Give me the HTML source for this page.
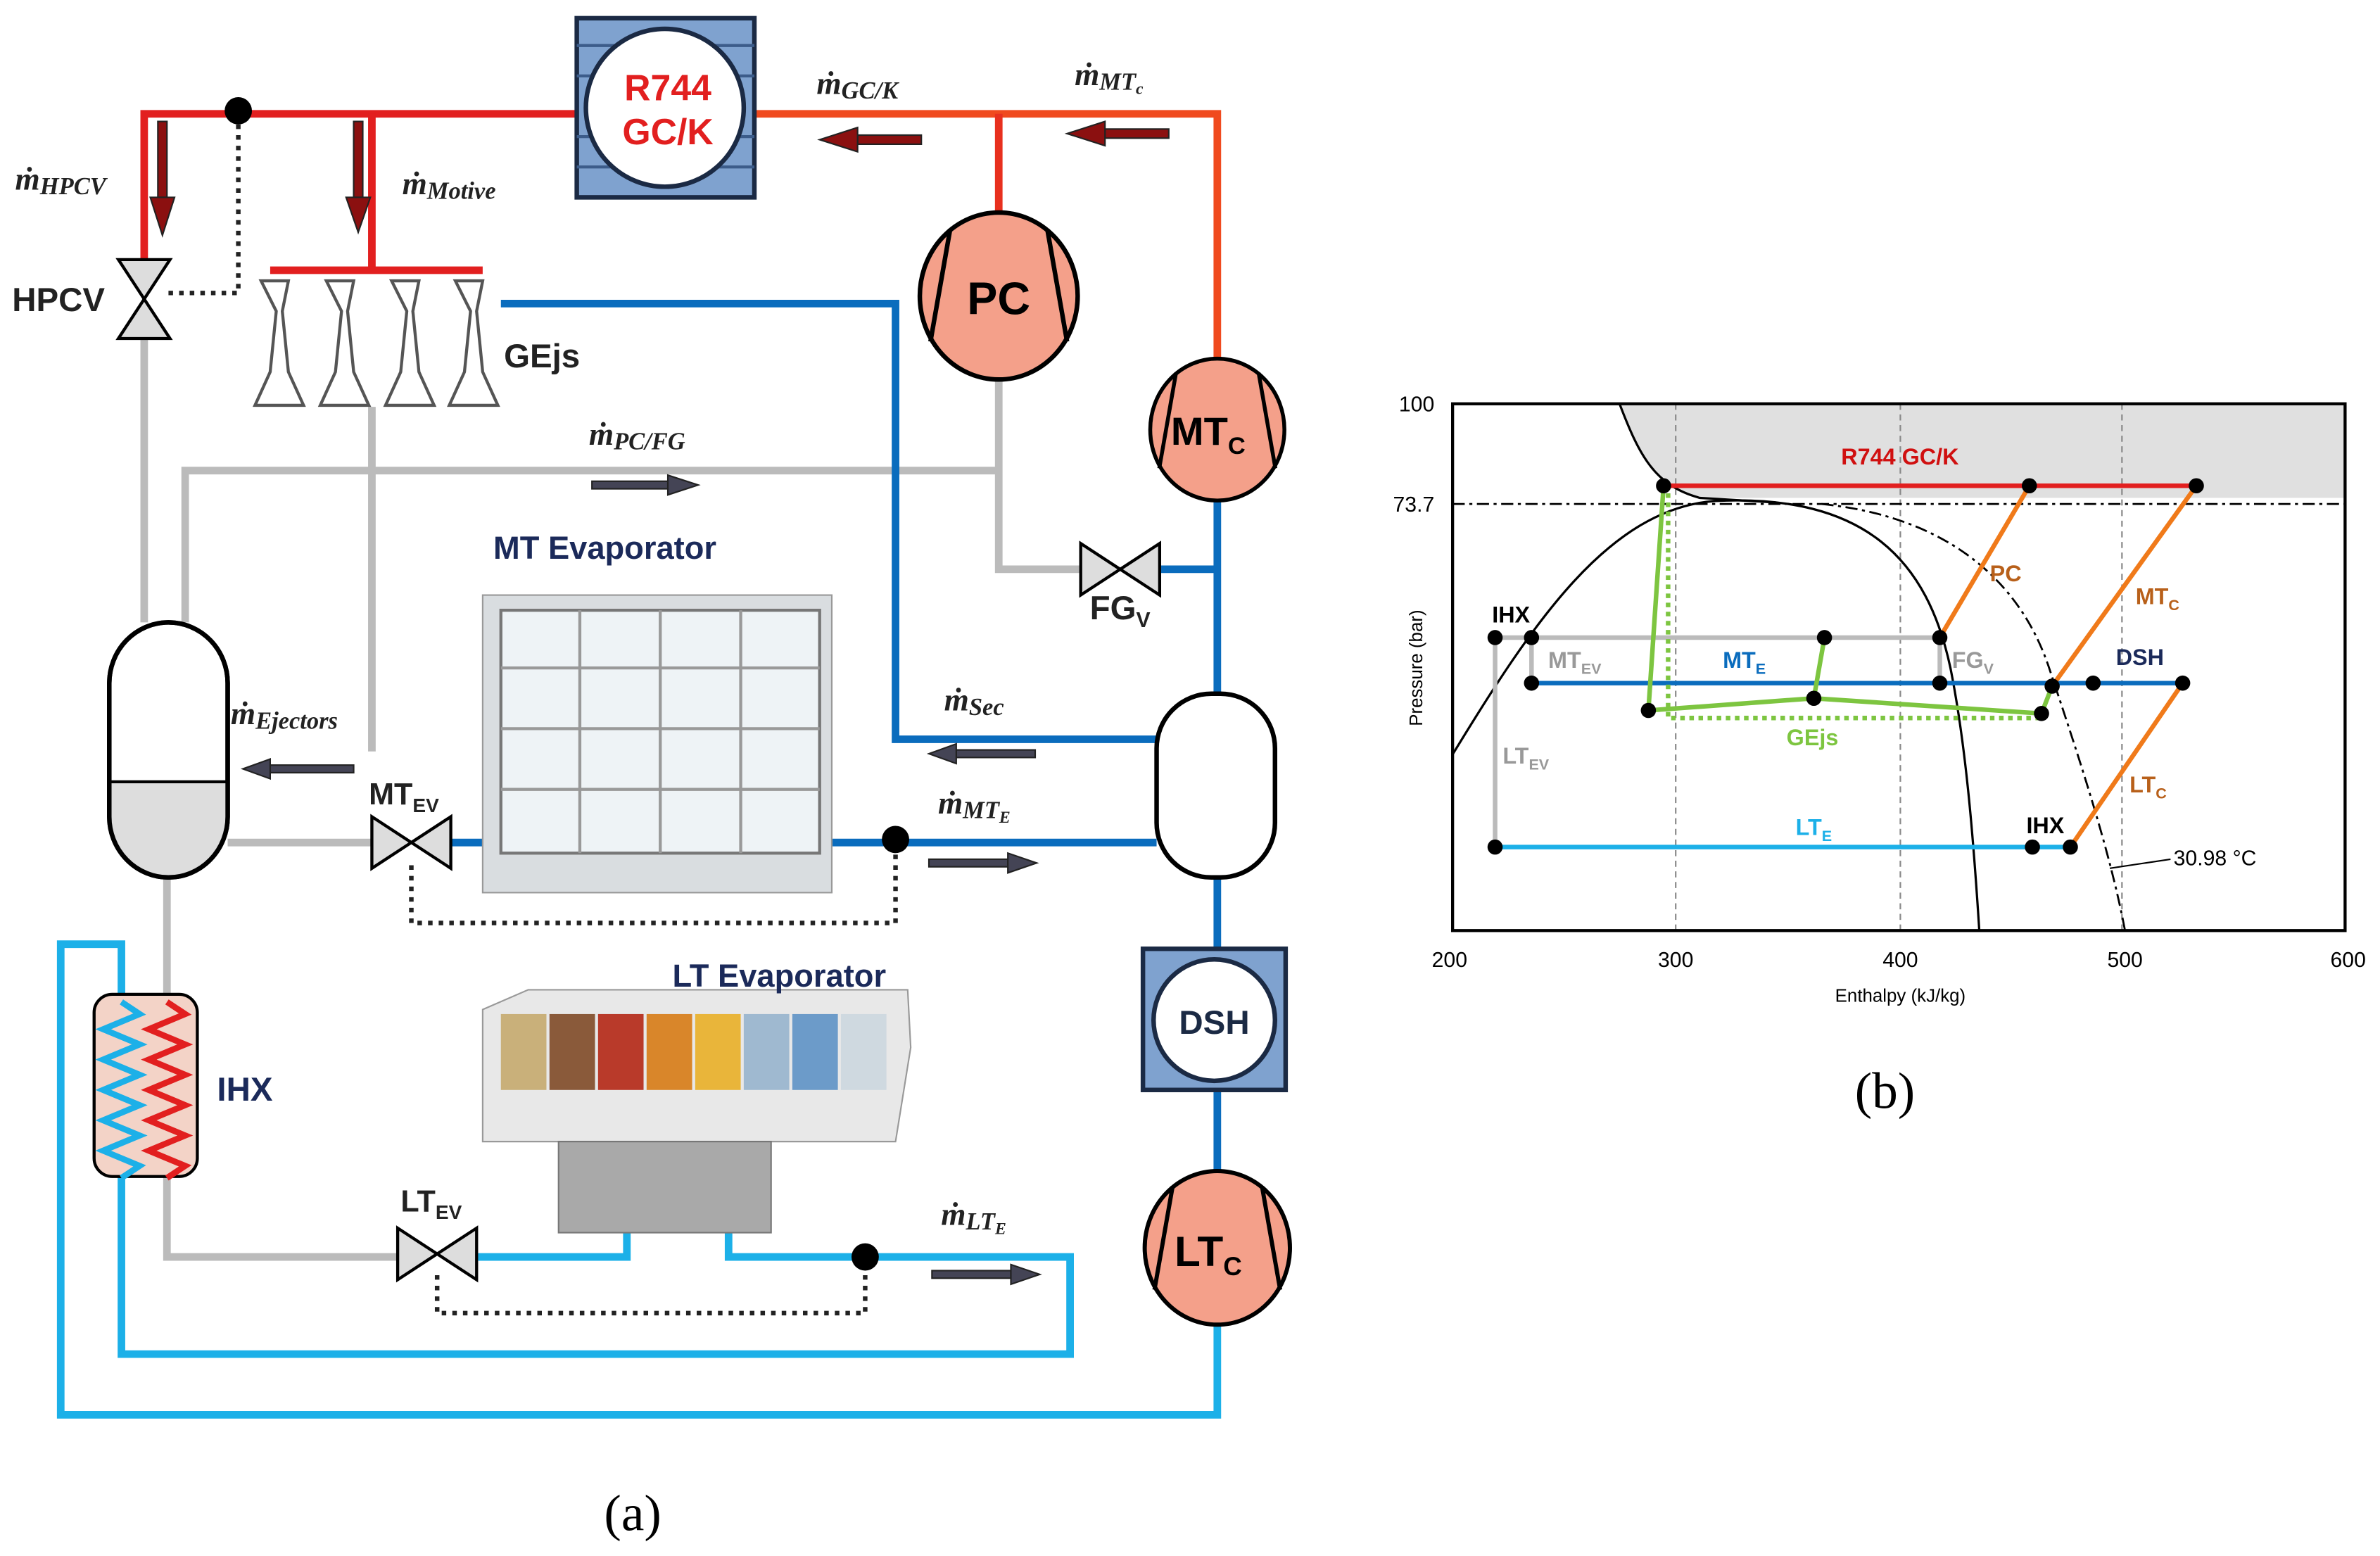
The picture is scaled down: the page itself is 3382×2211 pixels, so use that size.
<!DOCTYPE html>
<html><head><meta charset="utf-8"><style>html,body{margin:0;padding:0;background:#fff}svg{display:block}</style></head><body>
<svg width="3382" height="2211" viewBox="0 0 1568 1025" preserveAspectRatio="none" xmlns="http://www.w3.org/2000/svg" font-family="Liberation Sans, sans-serif">
<defs>
<g id="comp"><ellipse cx="0" cy="0" rx="52" ry="55" fill="#f4a08a" stroke="#000" stroke-width="3"/><line x1="-32" y1="-44" x2="-45" y2="30" stroke="#000" stroke-width="3"/><line x1="32" y1="-44" x2="45" y2="30" stroke="#000" stroke-width="3"/></g>
<g id="valve"><polygon points="-26,-17 -26,17 0,0" fill="#ddd" stroke="#000" stroke-width="2"/><polygon points="26,-17 26,17 0,0" fill="#ddd" stroke="#000" stroke-width="2"/></g>
</defs>
<g fill="none" stroke-width="5">
<!-- red/orange top -->
<path d="M95,190 V75 H380" stroke="#e21f1f"/>
<path d="M497,75 H802 V240" stroke="#f04a1e"/>
<path d="M658,75 V140" stroke="#e8301e"/>
<path d="M245,75 V178" stroke="#e21f1f"/>
<path d="M178,178 H318" stroke="#e21f1f"/>
<!-- gray -->
<path d="M95,220 V410" stroke="#bbb"/>
<path d="M122,410 V310 H658" stroke="#bbb"/>
<path d="M658,250 V375 H712" stroke="#bbb"/>
<path d="M245,268 V495" stroke="#bbb"/>
<path d="M150,555 H245" stroke="#bbb"/>
<path d="M110,578 V828 H262" stroke="#bbb"/>
<!-- blue MT -->
<path d="M330,200 H590 V487 H762" stroke="#0a6cbd"/>
<path d="M802,328 V457" stroke="#0a6cbd"/>
<path d="M765,375 H802" stroke="#0a6cbd"/>
<path d="M297,555 H762" stroke="#0a6cbd"/>
<path d="M802,578 V625 M802,718 V772" stroke="#0a6cbd"/>
<!-- light blue LT -->
<path d="M315,828 H413 V800 M480,810 V828 H705 V892 H80 V770" stroke="#1cb0e8"/>
<path d="M802,872 V932 H40 V622 H80 V660" stroke="#1cb0e8"/>
</g>
<!-- dotted -->
<g fill="none" stroke="#222" stroke-width="3" stroke-dasharray="3,4">
<path d="M157,75 V193 H110"/>
<path d="M271,570 V608 H590 V553"/>
<path d="M288,840 V865 H570 V828"/>
</g>
<circle cx="157" cy="73" r="9" fill="#000"/>
<circle cx="590" cy="553" r="9" fill="#000"/>
<circle cx="570" cy="828" r="9" fill="#000"/>
<!-- GC box -->
<rect x="380" y="12" width="117" height="118" fill="#7fa2cf" stroke="#1b2a44" stroke-width="3"/>
<g stroke="#3c5c8a" stroke-width="2"><line x1="380" y1="30" x2="497" y2="30"/><line x1="380" y1="50" x2="497" y2="50"/><line x1="380" y1="90" x2="497" y2="90"/><line x1="380" y1="110" x2="497" y2="110"/></g>
<circle cx="438" cy="71" r="52" fill="#fff" stroke="#1b2a44" stroke-width="3"/>
<text x="440" y="66" text-anchor="middle" font-weight="bold" font-size="24" fill="#e21f1f">R744</text>
<text x="440" y="95" text-anchor="middle" font-weight="bold" font-size="24" fill="#e21f1f">GC/K</text>
<!-- DSH box -->
<rect x="753" y="625" width="94" height="93" fill="#7fa2cf" stroke="#1b2a44" stroke-width="3"/>
<circle cx="800" cy="672" r="40" fill="#fff" stroke="#1b2a44" stroke-width="3"/>
<text x="800" y="681" text-anchor="middle" font-weight="bold" font-size="22" fill="#1b2a44">DSH</text>
<!-- compressors -->
<use href="#comp" x="658" y="195"/><text x="658" y="207" text-anchor="middle" font-weight="bold" font-size="30">PC</text>
<g transform="translate(802,283) scale(0.85)"><use href="#comp"/></g><text x="796" y="293" text-anchor="middle" font-weight="bold" font-size="26">MT<tspan font-size="16" dy="6">C</tspan></text>
<g transform="translate(802,822) scale(0.92)"><use href="#comp"/></g><text x="796" y="834" text-anchor="middle" font-weight="bold" font-size="28">LT<tspan font-size="17" dy="6">C</tspan></text>
<!-- valves -->
<g transform="translate(95,197) rotate(90)"><use href="#valve"/></g>
<use href="#valve" x="271" y="555"/>
<use href="#valve" x="288" y="826"/>
<use href="#valve" x="738" y="375"/>
<!-- ejectors -->
<g fill="#fff" stroke="#555" stroke-width="2">
<path d="M172,185 h18 l-4,20 l4,40 l10,22 h-32 l10,-22 l4,-40 z"/>
<path d="M215,185 h18 l-4,20 l4,40 l10,22 h-32 l10,-22 l4,-40 z"/>
<path d="M258,185 h18 l-4,20 l4,40 l10,22 h-32 l10,-22 l4,-40 z"/>
<path d="M300,185 h18 l-4,20 l4,40 l10,22 h-32 l10,-22 l4,-40 z"/>
</g>
<!-- separator -->
<path d="M72,450 a39,40 0 0 1 78,0 V538 a39,40 0 0 1 -78,0 Z" fill="#fff" stroke="#000" stroke-width="3"/>
<path d="M73,515 H149 V538 a38,39 0 0 1 -76,0 Z" fill="#ddd"/>
<path d="M72,450 a39,40 0 0 1 78,0 V538 a39,40 0 0 1 -78,0 Z" fill="none" stroke="#000" stroke-width="3"/>
<line x1="72" y1="515" x2="150" y2="515" stroke="#000" stroke-width="2"/>
<!-- receiver -->
<rect x="762" y="457" width="78" height="121" rx="36" fill="#fff" stroke="#000" stroke-width="3"/>
<!-- IHX -->
<rect x="62" y="655" width="68" height="120" rx="12" fill="#f3d3c7" stroke="#000" stroke-width="2"/>
<path d="M80,660 l12,8 -24,10 24,10 -24,10 24,10 -24,10 24,10 -24,10 24,10 -24,10 24,10 -12,8" fill="none" stroke="#1cb0e8" stroke-width="4"/>
<path d="M110,660 l12,8 -24,10 24,10 -24,10 24,10 -24,10 24,10 -24,10 24,10 -24,10 24,10 -12,8" fill="none" stroke="#e21f1f" stroke-width="4"/>
<!-- MT evaporator -->
<rect x="318" y="392" width="230" height="196" fill="#d9dde0" stroke="#999"/>
<rect x="330" y="402" width="210" height="160" fill="#eef3f6" stroke="#777" stroke-width="2"/>
<g stroke="#999" stroke-width="2"><line x1="382" y1="402" x2="382" y2="562"/><line x1="435" y1="402" x2="435" y2="562"/><line x1="488" y1="402" x2="488" y2="562"/><line x1="330" y1="440" x2="540" y2="440"/><line x1="330" y1="480" x2="540" y2="480"/><line x1="330" y1="520" x2="540" y2="520"/></g>
<!-- LT evaporator -->
<path d="M318,665 L348,652 H598 L600,690 L590,752 H318 Z" fill="#e8e8e8" stroke="#999"/>
<g><rect x="330" y="668" width="30" height="50" fill="#c9b07a"/><rect x="362" y="668" width="30" height="50" fill="#8a5a3a"/><rect x="394" y="668" width="30" height="50" fill="#b93a2a"/><rect x="426" y="668" width="30" height="50" fill="#d9862a"/><rect x="458" y="668" width="30" height="50" fill="#e9b53a"/><rect x="490" y="668" width="30" height="50" fill="#9fb9d0"/><rect x="522" y="668" width="30" height="50" fill="#6c9bc9"/><rect x="554" y="668" width="30" height="50" fill="#cfd9e0"/></g>
<rect x="368" y="752" width="140" height="60" fill="#a9a9a9" stroke="#777"/>
<!-- arrows -->
<g fill="#8b1010" stroke="#222" stroke-width="1">
<rect x="565" y="89" width="42" height="6"/><polygon points="565,84 540,92 565,100"/>
<rect x="728" y="85" width="42" height="6"/><polygon points="728,80 703,88 728,96"/>
<rect x="104" y="80" width="6" height="50"/><polygon points="99,130 107,155 115,130"/>
<rect x="233" y="80" width="6" height="50"/><polygon points="228,130 236,153 244,130"/>
</g>
<g fill="#445" stroke="#222" stroke-width="1">
<rect x="390" y="317" width="50" height="5"/><polygon points="440,313 460,319.5 440,326"/>
<rect x="630" y="494" width="52" height="5"/><polygon points="630,490 612,496.5 630,503"/>
<rect x="178" y="504" width="55" height="5"/><polygon points="178,500 160,506.5 178,513"/>
<rect x="612" y="566" width="52" height="5"/><polygon points="664,562 683,568.5 664,575"/>
<rect x="614" y="837" width="52" height="5"/><polygon points="666,833 685,839.5 666,846"/>
</g>
<!-- labels -->
<g font-family="Liberation Serif, serif" font-style="italic" font-weight="bold" fill="#222">
<text x="538" y="62" font-size="21">ṁ<tspan font-size="16" dy="3">GC/K</tspan></text>
<text x="708" y="56" font-size="21">ṁ<tspan font-size="16" dy="3">MT</tspan><tspan font-size="11" dy="3">c</tspan></text>
<text x="10" y="125" font-size="21">ṁ<tspan font-size="16" dy="3">HPCV</tspan></text>
<text x="265" y="128" font-size="21">ṁ<tspan font-size="16" dy="3">Motive</tspan></text>
<text x="388" y="293" font-size="21">ṁ<tspan font-size="16" dy="3">PC/FG</tspan></text>
<text x="152" y="477" font-size="21">ṁ<tspan font-size="16" dy="3">Ejectors</tspan></text>
<text x="622" y="468" font-size="21">ṁ<tspan font-size="16" dy="3">Sec</tspan></text>
<text x="618" y="536" font-size="21">ṁ<tspan font-size="16" dy="3">MT</tspan><tspan font-size="11" dy="3">E</tspan></text>
<text x="620" y="807" font-size="21">ṁ<tspan font-size="16" dy="3">LT</tspan><tspan font-size="11" dy="3">E</tspan></text>
</g>
<g font-weight="bold" fill="#222">
<text x="8" y="205" font-size="22">HPCV</text>
<text x="332" y="242" font-size="22">GEjs</text>
<text x="718" y="408" font-size="22">FG<tspan font-size="14" dy="5">V</tspan></text>
<text x="243" y="530" font-size="20">MT<tspan font-size="13" dy="5">EV</tspan></text>
<text x="264" y="798" font-size="20">LT<tspan font-size="13" dy="5">EV</tspan></text>
<text x="325" y="368" font-size="21" fill="#1b2a5a">MT Evaporator</text>
<text x="443" y="650" font-size="21" fill="#1b2a5a">LT Evaporator</text>
<text x="143" y="725" font-size="22" fill="#1b2a5a">IHX</text>
</g>
<text x="398" y="1008" font-family="Liberation Serif, serif" font-size="34">(a)</text>
<text x="1222" y="730" font-family="Liberation Serif, serif" font-size="34">(b)</text>
<!-- chart -->
<path d="M1067,266 C1080,300 1090,320 1120,328 H1545 V266 Z" fill="#e0e0e0"/>
<g stroke="#888" stroke-width="1" stroke-dasharray="4,3"><line x1="1104" y1="266" x2="1104" y2="613"/><line x1="1252" y1="266" x2="1252" y2="613"/><line x1="1398" y1="266" x2="1398" y2="613"/></g>
<line x1="957" y1="332" x2="1545" y2="332" stroke="#000" stroke-width="1.3" stroke-dasharray="8,3,2,3"/>
<path d="M957,497 C1010,410 1060,335 1130,330 C1230,325 1270,370 1285,440 C1295,490 1300,550 1304,613" fill="none" stroke="#000" stroke-width="1.5"/>
<path d="M1067,266 C1080,300 1090,320 1120,328 L1170,331" fill="none" stroke="#000" stroke-width="1.5"/>
<path d="M1200,332 C1280,340 1330,380 1350,440 C1370,500 1390,560 1400,613" fill="none" stroke="#000" stroke-width="1.3" stroke-dasharray="8,3,2,3"/>
<rect x="957" y="266" width="588" height="347" fill="none" stroke="#000" stroke-width="2"/>
<g fill="none" stroke-width="3">
<path d="M985,420 V558 M985,420 H1278 M1009,420 V450" stroke="#bbb"/>
<path d="M1278,420 V450" stroke="#bbb"/>
<path d="M1009,450 H1438" stroke="#0a6cbd"/>
<path d="M985,558 H1364" stroke="#1cb0e8"/>
<path d="M1096,320 H1447" stroke="#e21f1f"/>
<path d="M1096,320 L1086,468 L1195,460 L1345,470 L1352,452 M1195,460 L1202,420" stroke="#7dc540"/>
<path d="M1099,325 V473 H1345" stroke="#7dc540" stroke-dasharray="3,3"/>
<path d="M1278,420 L1337,320 M1352,452 L1447,320 M1364,558 L1438,450" stroke="#f07a1a"/>
</g>
<g fill="#000">
<circle cx="1096" cy="320" r="5"/><circle cx="1337" cy="320" r="5"/><circle cx="1447" cy="320" r="5"/>
<circle cx="985" cy="420" r="5"/><circle cx="1009" cy="420" r="5"/><circle cx="1202" cy="420" r="5"/><circle cx="1278" cy="420" r="5"/>
<circle cx="1009" cy="450" r="5"/><circle cx="1278" cy="450" r="5"/><circle cx="1352" cy="452" r="5"/><circle cx="1379" cy="450" r="5"/><circle cx="1438" cy="450" r="5"/>
<circle cx="1086" cy="468" r="5"/><circle cx="1195" cy="460" r="5"/><circle cx="1345" cy="470" r="5"/>
<circle cx="985" cy="558" r="5"/><circle cx="1339" cy="558" r="5"/><circle cx="1364" cy="558" r="5"/>
</g>
<line x1="1390" y1="572" x2="1430" y2="566" stroke="#000"/>
<g font-weight="bold" font-size="15">
<text x="1213" y="306" fill="#d01010">R744 GC/K</text>
<text x="1311" y="383" fill="#b8601a">PC</text>
<text x="1407" y="398" fill="#b8601a">MT<tspan font-size="10" dy="4">C</tspan></text>
<text x="1403" y="522" fill="#b8601a">LT<tspan font-size="10" dy="4">C</tspan></text>
<text x="983" y="410" fill="#000">IHX</text>
<text x="1335" y="549" fill="#000">IHX</text>
<text x="1020" y="440" fill="#999">MT<tspan font-size="10" dy="4">EV</tspan></text>
<text x="990" y="503" fill="#999">LT<tspan font-size="10" dy="4">EV</tspan></text>
<text x="1286" y="440" fill="#999">FG<tspan font-size="10" dy="4">V</tspan></text>
<text x="1135" y="440" fill="#0a6cbd">MT<tspan font-size="10" dy="4">E</tspan></text>
<text x="1183" y="550" fill="#1cb0e8">LT<tspan font-size="10" dy="4">E</tspan></text>
<text x="1394" y="438" fill="#1b2a5a">DSH</text>
<text x="1177" y="491" fill="#7dc540">GEjs</text>
</g>
<g font-size="14" fill="#000">
<text x="1432" y="570">30.98 °C</text>
<text x="945" y="271" text-anchor="end">100</text>
<text x="945" y="337" text-anchor="end">73.7</text>
<text x="955" y="637" text-anchor="middle">200</text>
<text x="1104" y="637" text-anchor="middle">300</text>
<text x="1252" y="637" text-anchor="middle">400</text>
<text x="1400" y="637" text-anchor="middle">500</text>
<text x="1547" y="637" text-anchor="middle">600</text>
<text x="1252" y="660" text-anchor="middle" font-size="12">Enthalpy (kJ/kg)</text>
<text x="937" y="440" text-anchor="middle" font-size="12" transform="rotate(-90 937 440)">Pressure (bar)</text>
</g>
</svg>
</body></html>
